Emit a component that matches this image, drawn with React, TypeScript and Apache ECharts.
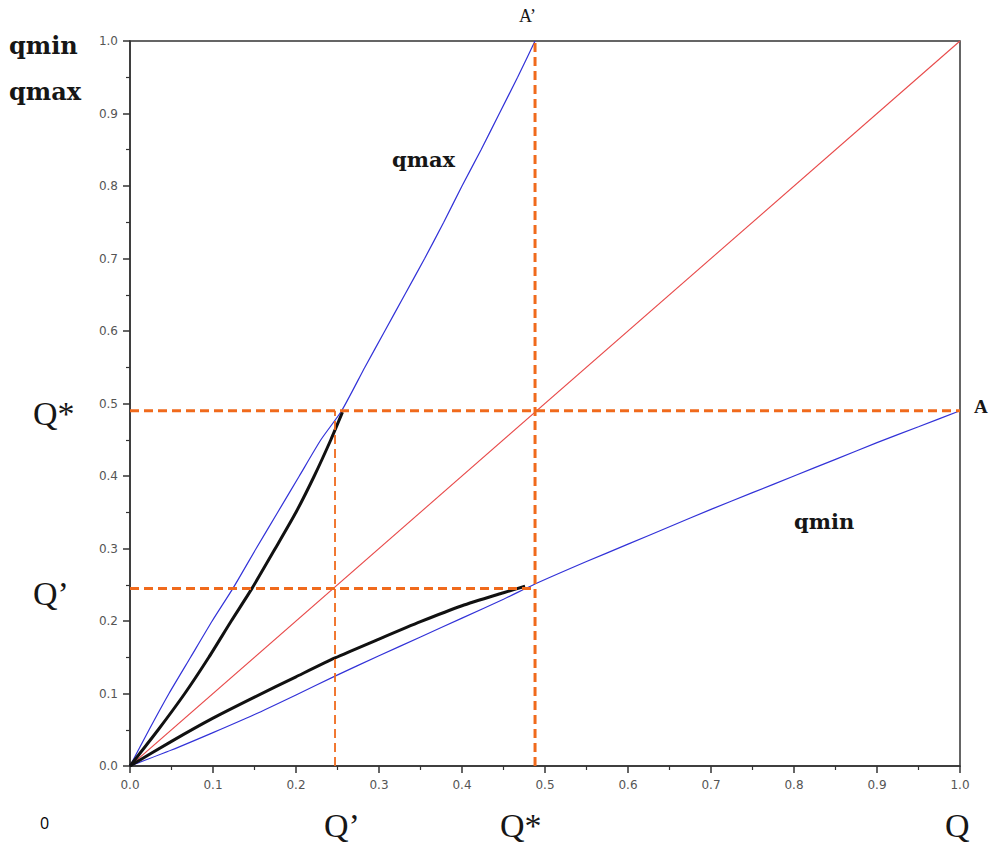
import React, { useEffect, useRef } from "react";
import * as echarts from "echarts";

// Data
const tickLabels = ["0.0", "0.1", "0.2", "0.3", "0.4", "0.5", "0.6", "0.7", "0.8", "0.9", "1.0"];
const diagX = [0, 1];
const diagY = [0, 1];
const qminX = [0, 0.05, 0.1, 0.15, 0.2, 0.247, 0.3, 0.35, 0.4, 0.45, 0.488, 0.55, 0.6, 0.65, 0.7, 0.75, 0.8, 0.85, 0.9, 0.95, 1.0];
const qminY = [0, 0.022, 0.046, 0.071, 0.098, 0.124, 0.152, 0.178, 0.204, 0.23, 0.251, 0.282, 0.306, 0.33, 0.354, 0.377, 0.4, 0.423, 0.446, 0.468, 0.49];
const qmaxX = [0, 0.023, 0.047, 0.073, 0.099, 0.124, 0.152, 0.178, 0.204, 0.23, 0.255, 0.283, 0.307, 0.331, 0.355, 0.378, 0.4, 0.423, 0.445, 0.467, 0.488];
const qmaxY = [0, 0.05, 0.1, 0.15, 0.2, 0.245, 0.3, 0.35, 0.4, 0.45, 0.49, 0.55, 0.6, 0.65, 0.7, 0.75, 0.8, 0.85, 0.9, 0.95, 1.0];
const lowX = [0, 0.05, 0.1, 0.15, 0.2, 0.247, 0.3, 0.35, 0.4, 0.45, 0.476];
const lowY = [0, 0.034, 0.066, 0.095, 0.123, 0.149, 0.175, 0.199, 0.221, 0.239, 0.248];
const upX = [0, 0.034, 0.066, 0.095, 0.122, 0.147, 0.175, 0.2, 0.222, 0.242, 0.256];
const upY = [0, 0.05, 0.1, 0.15, 0.2, 0.245, 0.3, 0.35, 0.4, 0.45, 0.488];
const qStarX = 0.488;
const qStarY = 0.49;
const qPrimeX = 0.247;
const qPrimeY = 0.245;

const zip = (xs: number[], ys: number[]) => xs.map((x, i) => [x, ys[i]]);

const GRID = { left: 130, right: 32, top: 41, bottom: 84 };
const W = 992;
const H = 850;

const ORANGE = "#f06a1c";
const BLUE = "#3232d8";
const WIDE_SERIF = "'DejaVu Serif', serif";
const TIMES = "'Liberation Serif', 'Times New Roman', serif";

export default function App() {
  const ref = useRef<HTMLDivElement>(null);
  useEffect(() => {
    if (!ref.current) return;
    const chart = echarts.init(ref.current, undefined, { renderer: "svg" });
    const axisCommon = {
      type: "value" as const,
      min: 0,
      max: 1,
      interval: 0.1,
      axisLine: { show: true, onZero: false, lineStyle: { color: "#333", width: 1.5 } },
      axisTick: { show: true, inside: false, length: 7, lineStyle: { color: "#333", width: 1.5 } },
      minorTick: { show: true, splitNumber: 2, length: 4, lineStyle: { color: "#333", width: 1.2 } },
      splitLine: { show: false },
      axisLabel: {
        color: "#555",
        fontFamily: "'DejaVu Sans', sans-serif",
        fontSize: 12,
        formatter: (v: number) => tickLabels[Math.round(v * 10)] ?? "",
      },
    };
    const line = (name: string, data: number[][], color: string, width: number, type: any = "solid", z = 2) => ({
      name,
      type: "line" as const,
      data,
      showSymbol: false,
      symbol: "none",
      smooth: type === "solid" ? 0.2 : false,
      lineStyle: { color, width, type },
      z,
      silent: true,
    });
    const text = (t: string, x: number, y: number, size: number, font: string, extra: any = {}) => ({
      type: "text" as const,
      x,
      y,
      style: { text: t, fontFamily: font, fontSize: size, fill: "#161616", ...extra },
    });
    chart.setOption({
      animation: false,
      backgroundColor: "#fff",
      grid: { ...GRID, show: true, borderColor: "#333", borderWidth: 1.5, backgroundColor: "transparent" },
      xAxis: { ...axisCommon, axisLabel: { ...axisCommon.axisLabel, margin: 13 } },
      yAxis: { ...axisCommon, axisLabel: { ...axisCommon.axisLabel, margin: 12 } },
      series: [
        line("diag", zip(diagX, diagY), "#e84a4a", 1.1),
        line("qmin", zip(qminX, qminY), BLUE, 1.2),
        line("qmax", zip(qmaxX, qmaxY), BLUE, 1.2),
        line("low", zip(lowX, lowY), "#111", 3),
        line("up", zip(upX, upY), "#111", 3),
        line("hQs", [[0, qStarY], [1, qStarY]], ORANGE, 3, [9, 5], 5),
        line("hQp", [[0, qPrimeY], [qStarX, qPrimeY]], ORANGE, 3, [9, 5], 5),
        line("vQs", [[qStarX, 0], [qStarX, 1]], ORANGE, 3, [9, 5], 5),
        line("vQp", [[qPrimeX, 0], [qPrimeX, qStarY]], ORANGE, 1.8, [9, 5], 5),
      ],
      graphic: [
        text("qmin", 9, 33, 24, WIDE_SERIF, { fontWeight: "bold" }),
        text("qmax", 9, 79, 24, WIDE_SERIF, { fontWeight: "bold" }),
        text("qmax", 392, 149, 21, WIDE_SERIF, { fontWeight: "bold" }),
        text("qmin", 794, 511, 21, WIDE_SERIF, { fontWeight: "bold" }),
        text("Q*", 33, 396, 34, TIMES),
        text("Q\u2019", 33, 576, 34, TIMES),
        text("Q\u2019", 324, 808, 34, TIMES),
        text("Q*", 500, 808, 34, TIMES),
        text("Q", 945, 808, 34, TIMES),
        text("A\u2019", 519, 7, 18, TIMES),
        text("A", 974, 397, 19, TIMES, { fontWeight: "bold" }),
        text("0", 40, 815, 16, "'Open Sans', sans-serif", { fill: "#000" }),
      ],
    });
    return () => chart.dispose();
  }, []);
  return <div ref={ref} style={{ position: "fixed", left: 0, top: 0, width: W, height: H }} />;
}
